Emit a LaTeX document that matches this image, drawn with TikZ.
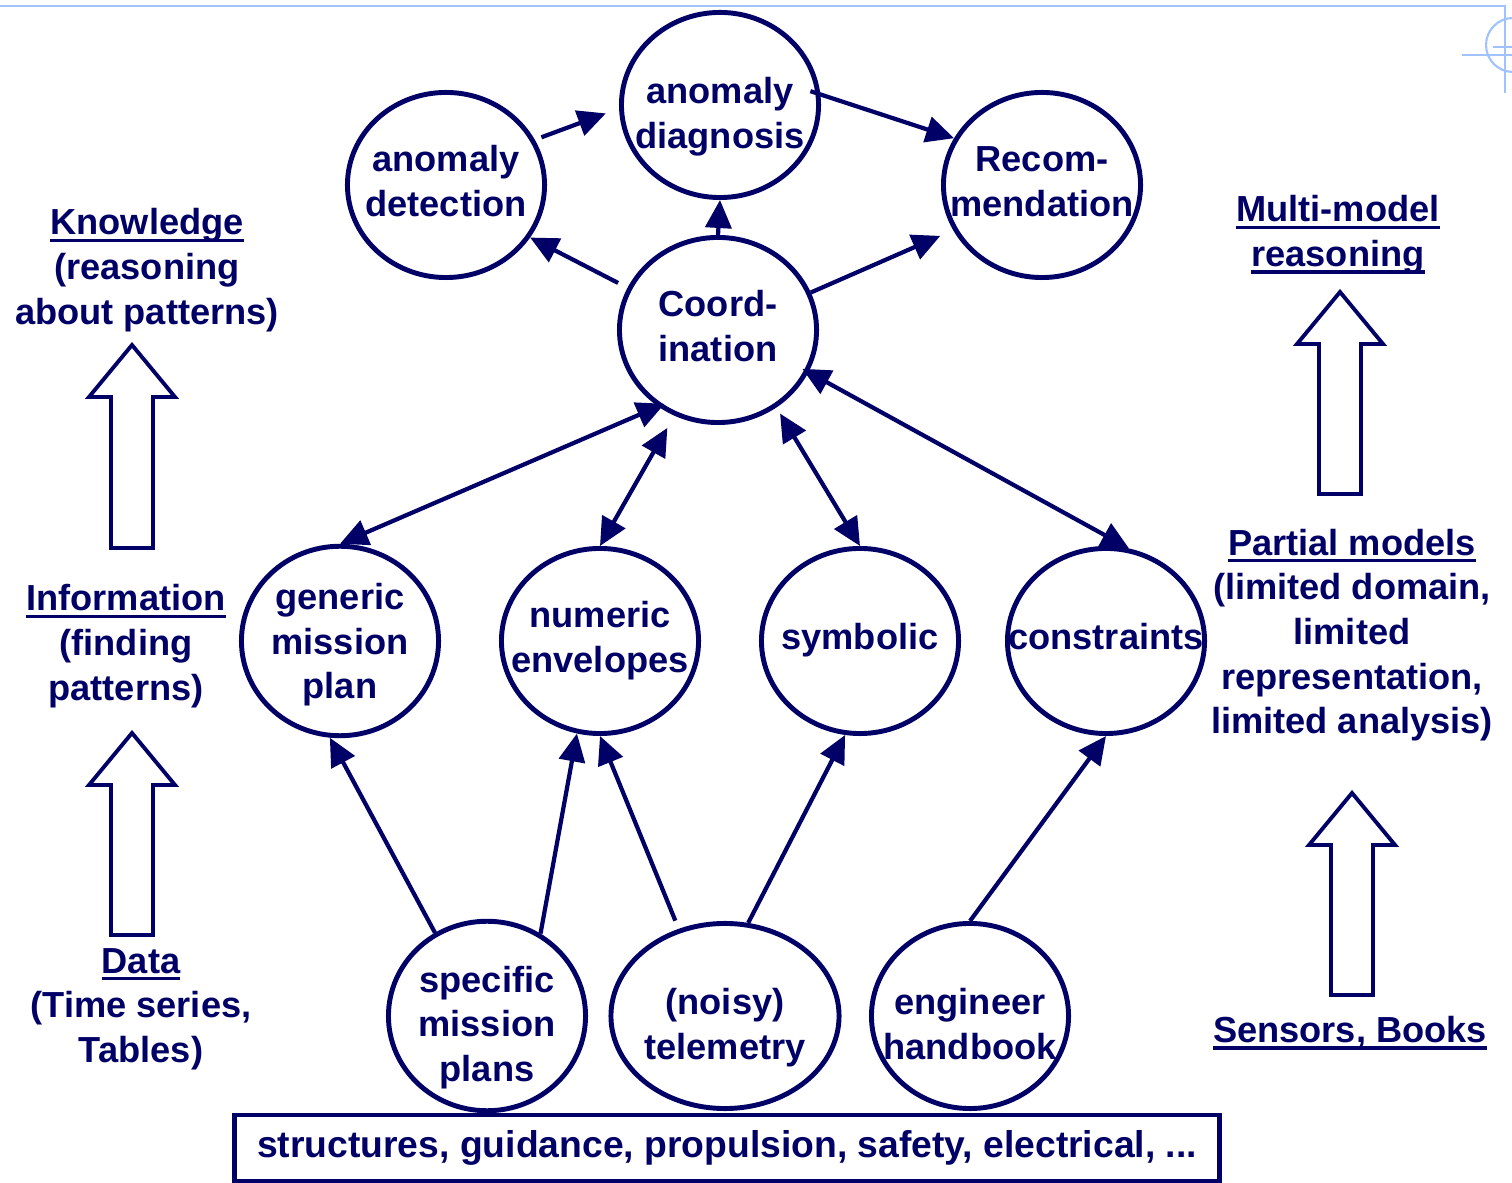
\documentclass[tikz,border=0pt]{standalone}
\usepackage{fontspec}
\setmainfont{Liberation Sans}
\usetikzlibrary{shapes.geometric,arrows.meta}
\definecolor{navy}{RGB}{0,0,102}
\definecolor{slideblue}{RGB}{160,195,255}
\newcommand{\undl}[1]{\setbox0\hbox{#1}\rlap{\rule[-2pt]{\wd0}{0.9pt}}\box0}
\newcommand{\lbl}[2][0pt]{\makebox[0pt]{\raisebox{#1}[\height][\depth]{\begin{tabular}{@{}c@{}}#2\end{tabular}}}}
\tikzset{
  topic/.style={ellipse, draw=navy, line width=1.4pt, inner sep=0pt,
    minimum width=1.97cm, minimum height=1.85cm},
  link/.style={-{Triangle[length=0.28cm,width=0.26cm]}, draw=navy, line width=1.2pt},
  twoway/.style={{Triangle[length=0.28cm,width=0.26cm]}-{Triangle[length=0.28cm,width=0.26cm]},
    draw=navy, line width=1.2pt},
  side/.style={align=center}
}

\begin{document}
\begin{tikzpicture}[x=0.01cm, y=-0.01cm, font=\fontsize{10.3}{12.7}\selectfont\bfseries, text=navy]
      \useasboundingbox (0,0) rectangle (1512,1183);
      % slide frame
      \draw[slideblue, line width=0.8pt] (0,6) -- (1505,6) -- (1505,93);
      \draw[slideblue, line width=0.6pt] (1513,45) circle (27);
      \draw[slideblue, line width=0.6pt] (1462,55) -- (1512,55);
      \draw[slideblue, line width=0.6pt] (1493,47) -- (1512,47);
      % top row
      \node[topic] (det) at (446,185) {\lbl{anomaly\\detection}};
      \node[topic] (diag) at (720,105) {\lbl[-3.5pt]{anomaly\\diagnosis}};
      \node[topic] (rec) at (1042,185) {\lbl{Recom-\\mendation}};
      \node[topic] (coord) at (718,330) {\lbl{Coord-\\ination}};
      % middle row
      \node[topic] (gen) at (340,641) {\lbl[-1.2pt]{generic\\mission\\plan}};
      \node[topic] (num) at (600,641) {\lbl{numeric\\envelopes}};
      \node[topic] (sym) at (860,641) {\lbl{symbolic}};
      \node[topic] (cons) at (1106,641) {\lbl{constraints}};
      % bottom row
      \node[topic] (spec) at (487,1016) {\lbl[-3.4pt]{specific\\mission\\plans}};
      \node[topic, minimum width=2.28cm] (tele) at (725,1016) {\lbl[-3.4pt]{(noisy)\\telemetry}};
      \node[topic] (hand) at (970,1016) {\lbl[-3.4pt]{engineer\\handbook}};
      \node[draw=navy, line width=1.4pt, fill=white, minimum width=9.85cm, minimum height=0.66cm,
        font=\fontsize{10.6}{12.7}\selectfont\bfseries] (domains) at (727,1148)
        {structures, guidance, propulsion, safety, electrical, ...};
      % side labels
      \node[side] (know) at (147,270) {\undl{Knowledge}\\(reasoning\\about patterns)};
      \node[side] (info) at (126,646) {\undl{Information}\\(finding\\patterns)};
      \node[side] (data) at (141,1009) {\undl{Data}\\(Time series,\\Tables)};
      \node[side] (multi) at (1338,235) {\undl{Multi-model}\\\undl{reasoning}};
      \node[side] (partial) at (1352,635) {\undl{Partial models}\\(limited domain,\\limited\\representation,\\limited analysis)};
      \node[side] (sensors) at (1350,1033) {\undl{Sensors, Books}};
      % hollow arrows
      \foreach \ax/\ay/\by in {132/345/548, 132/733/935, 1340/292/494, 1352/793/995}
        \draw[navy, line width=1.1pt, fill=white] (\ax,\ay) -- ({\ax+43},{\ay+52}) -- ({\ax+21},{\ay+52})
          -- ({\ax+21},\by) -- ({\ax-21},\by) -- ({\ax-21},{\ay+52}) -- ({\ax-43},{\ay+52}) -- cycle;
      % connectors
      \draw[link, shorten <=2pt, shorten >=4pt] (det.27) -- (diag.182);
      \draw[link, shorten <=-3pt] (diag.6) -- (rec.152);
      \draw[link] (coord.north) -- (diag.south);
      \draw[link, shorten <=3pt] (coord.155) -- (det.328);
      \draw[link, shorten >=4pt] (coord.22) -- (rec.207);
      \draw[twoway, shorten >=-2pt] (gen.north) -- (coord.232);
      \draw[twoway, shorten >=4pt] (num.north) -- (coord.243);
      \draw[twoway, shorten >=2pt] (sym.north) -- (coord.307);
      \draw[twoway, shorten >=-2pt] (cons.76) -- (coord.335);
      \draw[link] (spec.122) -- (gen.264);
      \draw[link] (spec.57) -- (num.256);
      \draw[link, shorten <=2.5pt] (tele.118) -- (num.south);
      \draw[link] (tele.76) -- (sym.261);
      \draw[link] (hand.north) -- (cons.south);
\end{tikzpicture}
\end{document}
